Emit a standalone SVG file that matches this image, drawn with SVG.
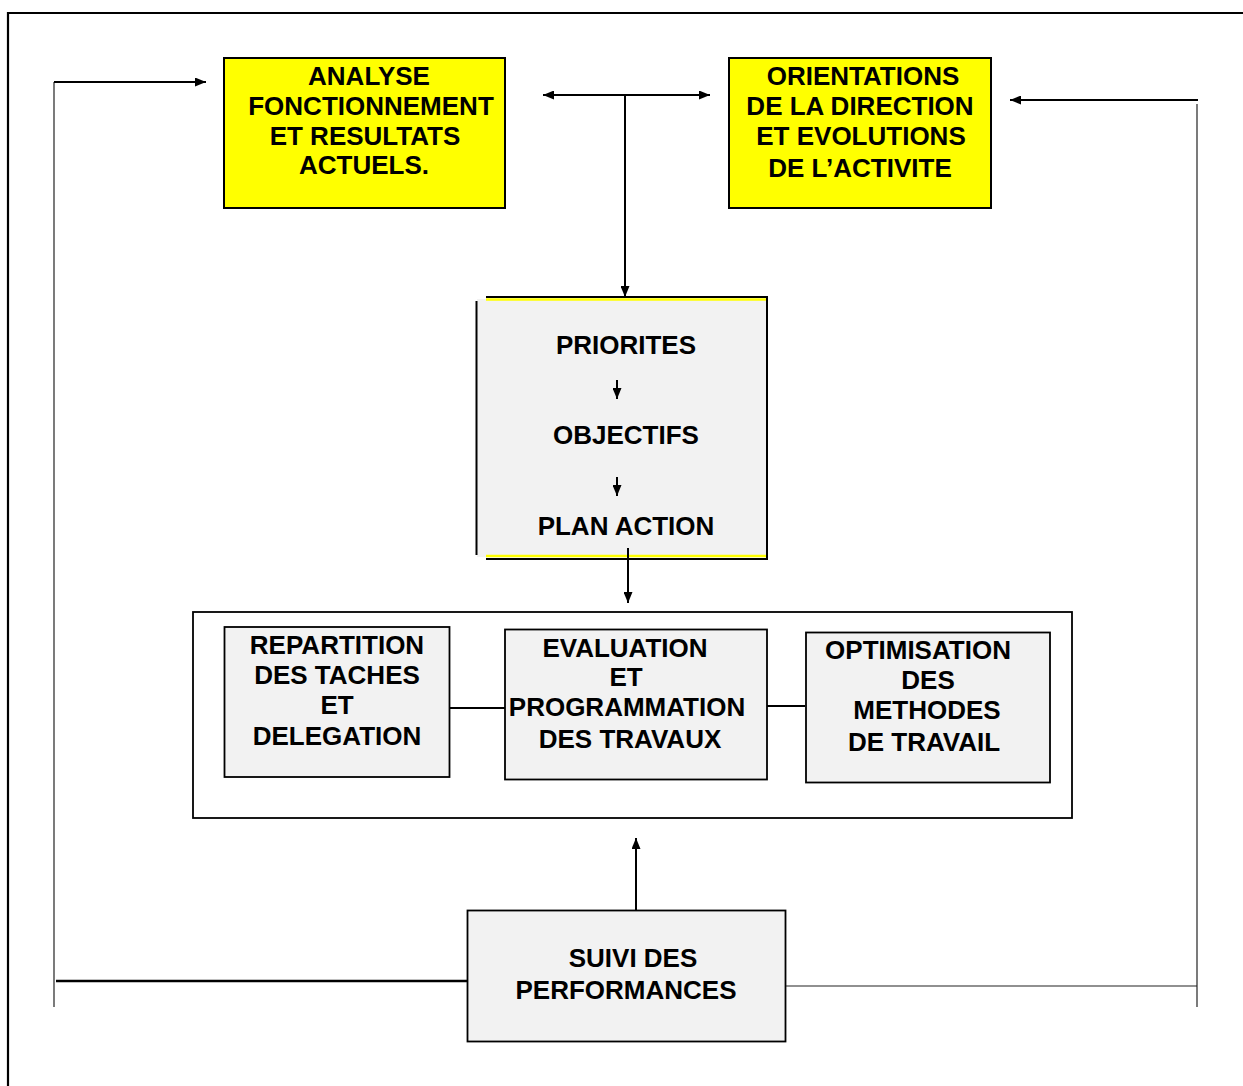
<svg xmlns="http://www.w3.org/2000/svg" width="1243" height="1086" viewBox="0 0 1243 1086">
<style>
text{font-family:"Liberation Sans",Arial,sans-serif;font-weight:bold;font-size:26px;fill:#000;text-anchor:middle}
.yel{fill:#ffff00;stroke:#000;stroke-width:2}
.gry{fill:#f2f2f2;stroke:#000;stroke-width:1.8}
.ln{stroke:#000;stroke-width:2;fill:none}
.thin{stroke:#222;stroke-width:1.2;fill:none}
.thk{stroke:#000;stroke-width:2.6;fill:none}
</style>
<defs>
<marker id="ah" viewBox="0 0 11 9" refX="11" refY="4.5" markerWidth="11" markerHeight="9" markerUnits="userSpaceOnUse" orient="auto-start-reverse">
<path d="M0,0 L11,4.5 L0,9 z" fill="#000"/>
</marker>
</defs>
<rect width="1243" height="1086" fill="#fff"/>
<g id="frame">
<path d="M8,1086 V13 H1243" fill="none" stroke="#000" stroke-width="2.2"/>
</g>
<g id="analyse">
<rect class="yel" x="224" y="58" width="281" height="150"/>
<text x="369" y="85">ANALYSE</text>
<text x="371" y="115">FONCTIONNEMENT</text>
<text x="365" y="145">ET RESULTATS</text>
<text x="364" y="174">ACTUELS.</text>
</g>
<g id="orientations">
<rect class="yel" x="729" y="58" width="262" height="150"/>
<text x="863" y="85">ORIENTATIONS</text>
<text x="860" y="115">DE LA DIRECTION</text>
<text x="861" y="145">ET EVOLUTIONS</text>
<text x="860" y="177">DE L’ACTIVITE</text>
</g>
<g id="priorites">
<rect x="477" y="299" width="290" height="258" fill="#f2f2f2"/>
<path d="M486,299.5 H766 M486,556 H766" stroke="#ffff00" stroke-width="2.5" fill="none"/>
<path d="M486,297 H767 V559 H486" stroke="#000" stroke-width="2" fill="none"/>
<path d="M476.5,301 V555" stroke="#000" stroke-width="2" fill="none"/>
<text x="626" y="354">PRIORITES</text>
<text x="626" y="444">OBJECTIFS</text>
<text x="626" y="535">PLAN ACTION</text>
</g>
<g id="container">
<rect x="193" y="612" width="879" height="206" fill="none" stroke="#000" stroke-width="1.8"/>
</g>
<g id="repartition">
<rect class="gry" x="224.5" y="627" width="225" height="150"/>
<text x="337" y="654">REPARTITION</text>
<text x="337" y="684">DES TACHES</text>
<text x="337" y="714">ET</text>
<text x="337" y="745">DELEGATION</text>
</g>
<g id="evaluation">
<rect class="gry" x="505" y="629.5" width="262" height="150"/>
<text x="625" y="657">EVALUATION</text>
<text x="626" y="686">ET</text>
<text x="627" y="716">PROGRAMMATION</text>
<text x="630" y="748">DES TRAVAUX</text>
</g>
<g id="optimisation">
<rect class="gry" x="806" y="632.5" width="244" height="150"/>
<text x="918" y="659">OPTIMISATION</text>
<text x="928" y="689">DES</text>
<text x="927" y="719">METHODES</text>
<text x="924" y="751">DE TRAVAIL</text>
</g>
<g id="suivi">
<rect class="gry" x="467.5" y="910.5" width="318" height="131"/>
<text x="633" y="967">SUIVI DES</text>
<text x="626" y="999">PERFORMANCES</text>
</g>
<g id="connectors">
<path class="ln" d="M543,95 H710" marker-start="url(#ah)" marker-end="url(#ah)"/>
<path class="ln" d="M625,95 V297" marker-end="url(#ah)"/>
<path class="ln" d="M617,380 V399" marker-end="url(#ah)"/>
<path class="ln" d="M617,477 V496" marker-end="url(#ah)"/>
<path class="ln" d="M628,548 V603" marker-end="url(#ah)"/>
<path class="ln" d="M449,708 H505"/>
<path class="ln" d="M767,706 H805"/>
<path class="ln" d="M636,911 V838" marker-end="url(#ah)"/>
<path class="thk" d="M56,981 H467"/>
<path class="thin" d="M54,1007 V82"/>
<path class="ln" d="M54,82 H206" marker-end="url(#ah)"/>
<path class="thin" d="M786,986 H1197"/>
<path class="thin" d="M1197,1007 V104"/>
<path class="ln" d="M1198,100 H1010" marker-end="url(#ah)"/>
</g>
</svg>
